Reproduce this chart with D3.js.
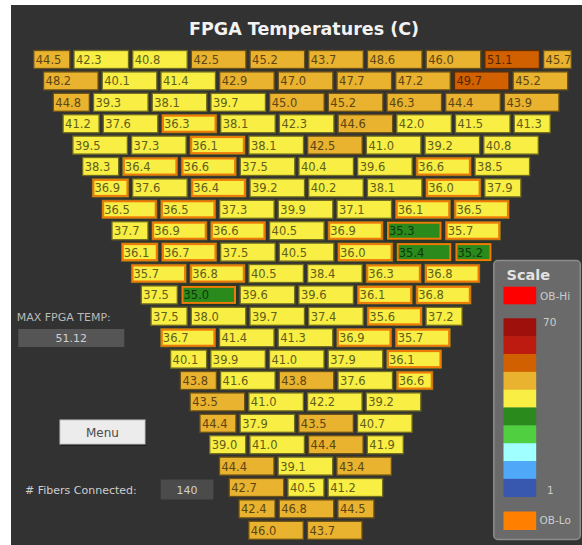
<!DOCTYPE html>
<html>
<head>
<meta charset="utf-8">
<script src="https://cdn.jsdelivr.net/npm/d3@7"></script>
<style>
  html, body { margin: 0; padding: 0; background: #ffffff; }
  svg { display: block; font-family: "DejaVu Sans", Verdana, sans-serif; }
</style>
</head>
<body>
<svg id="chart" width="582" height="545"></svg>
<script>
// FPGA temperatures (deg C), one array per row of modules, top row first.
const rowValues = [
  [44.5, 42.3, 40.8, 42.5, 45.2, 43.7, 48.6, 46.0, 51.1, 45.7],
  [48.2, 40.1, 41.4, 42.9, 47.0, 47.7, 47.2, 49.7, 45.2],
  [44.8, 39.3, 38.1, 39.7, 45.0, 45.2, 46.3, 44.4, 43.9],
  [41.2, 37.6, 36.3, 38.1, 42.3, 44.6, 42.0, 41.5, 41.3],
  [39.5, 37.3, 36.1, 38.1, 42.5, 41.0, 39.2, 40.8],
  [38.3, 36.4, 36.6, 37.5, 40.4, 39.6, 36.6, 38.5],
  [36.9, 37.6, 36.4, 39.2, 40.2, 38.1, 36.0, 37.9],
  [36.5, 36.5, 37.3, 39.9, 37.1, 36.1, 36.5],
  [37.7, 36.9, 36.6, 40.5, 36.9, 35.3, 35.7],
  [36.1, 36.7, 37.5, 40.5, 36.0, 35.4, 35.2],
  [35.7, 36.8, 40.5, 38.4, 36.3, 36.8],
  [37.5, 35.0, 39.6, 39.6, 36.1, 36.8],
  [37.5, 38.0, 39.7, 37.4, 35.6, 37.2],
  [36.7, 41.4, 41.3, 36.9, 35.7],
  [40.1, 39.9, 41.0, 37.9, 36.1],
  [43.8, 41.6, 43.8, 37.6, 36.6],
  [43.5, 41.0, 42.2, 39.2],
  [44.4, 37.9, 43.5, 40.7],
  [39.0, 41.0, 44.4, 41.9],
  [44.4, 39.1, 43.4],
  [42.7, 40.5, 41.2],
  [42.4, 46.8, 44.5],
  [46.0, 43.7]
];

// Module span of each cell in grid units (2 = half module, 3 = full module).
const rowSpans = [
  [2, 3, 3, 3, 3, 3, 3, 3, 3, 1.55],
  [3, 3, 3, 3, 3, 3, 3, 3, 3],
  [2, 3, 3, 3, 3, 3, 3, 3, 3],
  [2, 3, 3, 3, 3, 3, 3, 3, 2],
  [3, 3, 3, 3, 3, 3, 3, 3],
  [2, 3, 3, 3, 3, 3, 3, 3],
  [2, 3, 3, 3, 3, 3, 3, 2],
  [3, 3, 3, 3, 3, 3, 3],
  [2, 3, 3, 3, 3, 3, 3],
  [2, 3, 3, 3, 3, 3, 2],
  [3, 3, 3, 3, 3, 3],
  [2, 3, 3, 3, 3, 3],
  [2, 3, 3, 3, 3, 2],
  [3, 3, 3, 3, 3],
  [2, 3, 3, 3, 3],
  [2, 3, 3, 3, 2],
  [3, 3, 3, 3],
  [2, 3, 3, 3],
  [2, 3, 3, 2],
  [3, 3, 3],
  [3, 2, 3],
  [2, 3, 2],
  [3, 3]
];

// Colour scale, from the top band (70) down to the bottom band (1).
const scaleColors = ["#9e100b", "#bd1b10", "#d06000", "#e9b22f", "#f8ee44",
                     "#2a8a1b", "#50d040", "#a0ffff", "#50a8f8", "#3858b0"];
const scaleRange = [1, 70];
const lowWarnLimit = 37.0;      // cells below this get the OB-Lo outline
const maxTempText = "51.12";
const fibersConnected = 140;

const svg = d3.select("#chart");
const W = 582, H = 545;

// panel background
svg.append("rect").attr("x", 11).attr("y", 5).attr("width", W - 11).attr("height", H - 5)
  .attr("fill", "#323232");

svg.append("text")
  .attr("x", 304).attr("y", 35)
  .attr("text-anchor", "middle")
  .attr("font-weight", "bold").attr("font-size", 17.5)
  .attr("fill", "#f2f2f2")
  .text("FPGA Temperatures (C)");

// ---- temperature grid ----
const nRows = rowValues.length;
const rowY = d3.scaleLinear().domain([0, nRows - 1]).range([50, 50 + 21.4 * (nRows - 1)]);
const rowX = d3.scaleLinear().domain([0, nRows - 1]).range([33.3, 248.3]);
const unitW = 18.5, gap = 3.2, cellH = 19;

const colorScale = d3.scaleQuantize()
  .domain(scaleRange)
  .range(scaleColors.slice().reverse());
const fmt = d3.format(".1f");

const cells = [];
rowValues.forEach((vals, r) => {
  let x = rowX(r);
  vals.forEach((v, c) => {
    const w = rowSpans[r][c] * unitW;
    cells.push({ r, c, v, x, w, y: rowY(r) });
    x += w + gap;
  });
});

const cellG = svg.append("g").selectAll("g").data(cells).join("g")
  .attr("transform", d => `translate(${d.x},${d.y})`);

cellG.append("rect")
  .attr("x", 0.5).attr("y", 0.5)
  .attr("width", d => d.w - 1).attr("height", cellH - 1)
  .attr("fill", d => colorScale(d.v))
  .attr("stroke", d => d3.color(colorScale(d.v)).darker(2.2))
  .attr("stroke-width", 1.3);

// OB-Lo outline for cool modules
cellG.filter(d => d.v < lowWarnLimit).append("rect")
  .attr("x", 1.5).attr("y", 1.5)
  .attr("width", d => d.w - 3).attr("height", cellH - 3)
  .attr("fill", "none")
  .attr("stroke", "#f07a08")
  .attr("stroke-width", 2);

cellG.append("text")
  .attr("x", 2.5).attr("y", 14)
  .attr("font-size", 11.5)
  .attr("fill", d => d3.color(colorScale(d.v)).darker(2.6))
  .text(d => fmt(d.v));

// ---- left side widgets ----
svg.append("text").attr("x", 16.7).attr("y", 321)
  .attr("font-size", 11).attr("fill", "#b9b9b9")
  .text("MAX FPGA TEMP:");
svg.append("rect").attr("x", 18.3).attr("y", 329).attr("width", 106).attr("height", 18)
  .attr("fill", "#555555");
svg.append("text").attr("x", 71.3).attr("y", 342)
  .attr("text-anchor", "middle").attr("font-size", 11).attr("fill", "#cfcfcf")
  .text(maxTempText);

svg.append("rect").attr("x", 61).attr("y", 421).attr("width", 85).attr("height", 25)
  .attr("fill", "#1e1e1e");
svg.append("rect").attr("x", 60).attr("y", 420).attr("width", 85).attr("height", 24)
  .attr("fill", "#ececec").attr("stroke", "#c8c8c8").attr("stroke-width", 1);
svg.append("text").attr("x", 102.5).attr("y", 437)
  .attr("text-anchor", "middle").attr("font-size", 12).attr("fill", "#4a4a4a")
  .text("Menu");

svg.append("text").attr("x", 25).attr("y", 494)
  .attr("font-size", 11).attr("fill", "#cfcfcf")
  .text("# Fibers Connected:");
svg.append("rect").attr("x", 160.7).attr("y", 479.5).attr("width", 52.7).attr("height", 20)
  .attr("fill", "#4b4b4b");
svg.append("text").attr("x", 187).attr("y", 494)
  .attr("text-anchor", "middle").attr("font-size", 11).attr("fill", "#d0d0d0")
  .text(fibersConnected);

// ---- colour scale legend ----
const lg = svg.append("g");
lg.append("rect").attr("x", 493.8).attr("y", 260.5).attr("width", 86.5).attr("height", 279)
  .attr("rx", 4).attr("fill", "#6a6a6a").attr("stroke", "#8c8c8c").attr("stroke-width", 1.5);
lg.append("text").attr("x", 506.5).attr("y", 280)
  .attr("font-weight", "bold").attr("font-size", 14.5).attr("fill", "#e2e2e2")
  .text("Scale");

lg.append("rect").attr("x", 503.5).attr("y", 286.7).attr("width", 32.7).attr("height", 17.6)
  .attr("fill", "#ff0000");
lg.append("text").attr("x", 540).attr("y", 300)
  .attr("font-size", 10.5).attr("fill", "#cccccc").text("OB-Hi");

const bandY = d3.scaleBand().domain(d3.range(scaleColors.length))
  .range([318.3, 496.7]).padding(0);
lg.selectAll("rect.band").data(scaleColors).join("rect")
  .attr("class", "band")
  .attr("x", 503.5).attr("y", (d, i) => bandY(i))
  .attr("width", 32.7).attr("height", bandY.bandwidth() + 0.3)
  .attr("fill", d => d);
lg.append("text").attr("x", 543).attr("y", 326)
  .attr("font-size", 10.5).attr("fill", "#cccccc").text(String(scaleRange[1]));
lg.append("text").attr("x", 547).attr("y", 494)
  .attr("font-size", 10.5).attr("fill", "#cccccc").text(String(scaleRange[0]));

lg.append("rect").attr("x", 503.5).attr("y", 511.5).attr("width", 32.7).attr("height", 18.5)
  .attr("fill", "#ff7f00");
lg.append("text").attr("x", 539.5).attr("y", 524)
  .attr("font-size", 10.5).attr("fill", "#cccccc").text("OB-Lo");
</script>
</body>
</html>
